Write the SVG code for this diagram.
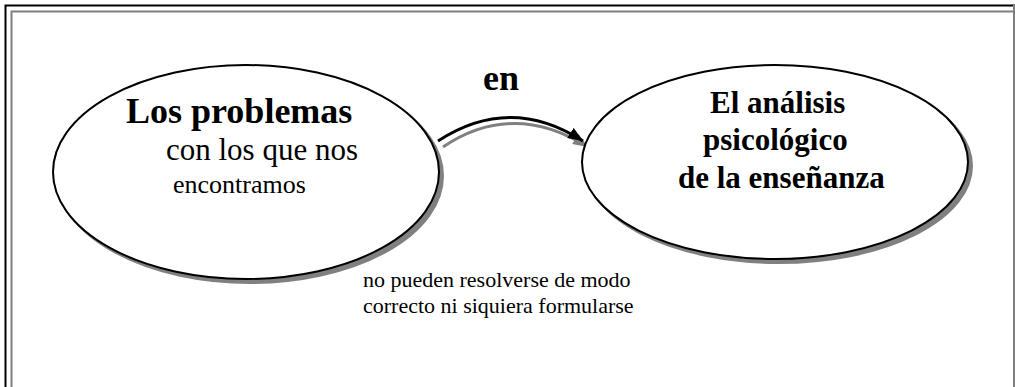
<svg xmlns="http://www.w3.org/2000/svg" width="1015" height="387" viewBox="0 0 1015 387">
<style>
.shadow{fill:#808080;stroke:#808080;stroke-width:2}
.node{fill:#ffffff;stroke:#000000;stroke-width:2}
.t{font-family:"Liberation Serif","Times New Roman",serif;fill:#000}
.b{font-weight:bold}
</style>
<defs>
<marker id="ahB" markerWidth="16" markerHeight="12" refX="15" refY="6" orient="auto" markerUnits="userSpaceOnUse">
<path d="M0,0 L15,6 L0,12 Z" fill="#000"/>
</marker>
<marker id="ahG" markerWidth="16" markerHeight="12" refX="15" refY="6" orient="auto" markerUnits="userSpaceOnUse">
<path d="M0,0 L15,6 L0,12 Z" fill="#808080"/>
</marker>
</defs>
<rect width="1015" height="387" fill="#fff"/>
<g id="frame" fill="none">
<path d="M5.5,387 V5.5 H1015" stroke="#000" stroke-width="2"/>
<path d="M11.5,387 V11.5 H1015" stroke="#808080" stroke-width="2"/>
<path d="M1014,5 V387" stroke="#808080" stroke-width="2"/>
</g>
<g id="connectors" fill="none">
<path d="M443,147 Q513,100 588,147" stroke="#808080" stroke-width="3" marker-end="url(#ahG)"/>
<path d="M438,141 Q510,94 583,141" stroke="#000" stroke-width="3" marker-end="url(#ahB)"/>
</g>
<g id="node-problemas">
<ellipse class="shadow" cx="250" cy="176" rx="193" ry="107"/>
<ellipse class="node" cx="246" cy="172" rx="193" ry="107"/>
<text class="t b" x="126" y="123" font-size="36">Los problemas</text>
<text class="t" x="166" y="160" font-size="31">con los que nos</text>
<text class="t" x="173" y="193" font-size="26">encontramos</text>
</g>
<g id="node-analisis">
<ellipse class="shadow" cx="779" cy="166" rx="193" ry="97"/>
<ellipse class="node" cx="775" cy="162" rx="193" ry="97"/>
<text class="t b" x="710" y="113" font-size="31">El análisis</text>
<text class="t b" x="703" y="150" font-size="31">psicológico</text>
<text class="t b" x="678" y="188" font-size="31">de la enseñanza</text>
</g>
<g id="label-en">
<text class="t b" x="483" y="90" font-size="36">en</text>
</g>
<g id="label-bottom">
<text class="t" x="363" y="287" font-size="22">no pueden resolverse de modo</text>
<text class="t" x="363" y="313" font-size="22">correcto ni siquiera formularse</text>
</g>
</svg>
